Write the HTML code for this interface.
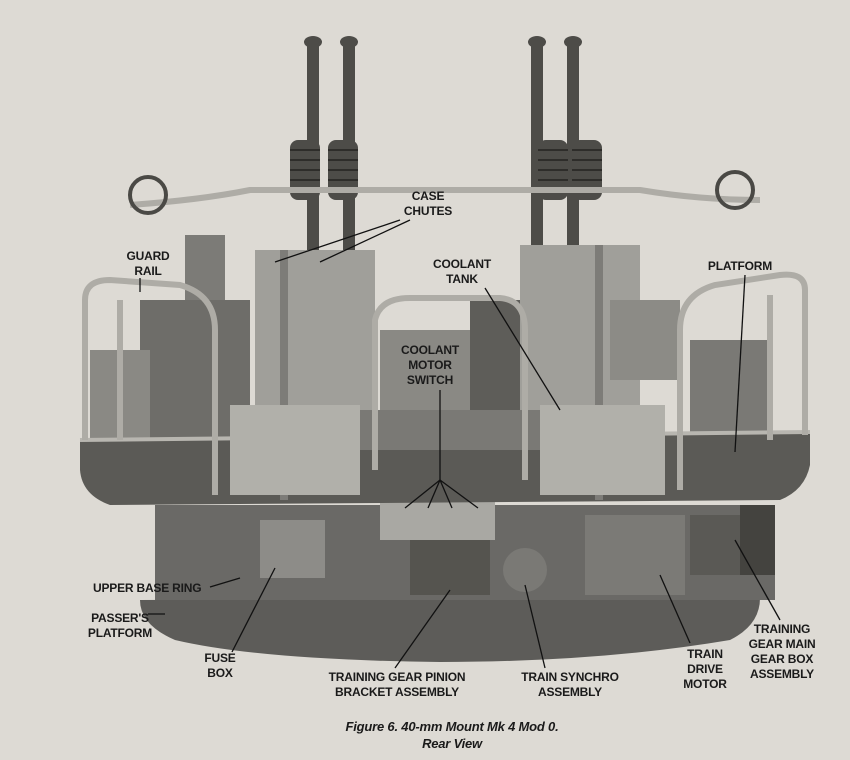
<!DOCTYPE html>
<html><head><meta charset="utf-8"><style>
html,body{margin:0;padding:0;background:#dddad4;}
svg{display:block}
text{font-family:"Liberation Sans",sans-serif;font-size:12px;fill:#1a1a1a;font-weight:bold;letter-spacing:-0.2px}
.c{text-anchor:middle}
</style></head><body>
<svg width="850" height="760" viewBox="0 0 850 760">
<rect width="850" height="760" fill="#dddad4"/>
<!-- background machinery -->
<rect x="140" y="300" width="110" height="140" fill="#6e6d69"/>
<rect x="90" y="350" width="60" height="90" fill="#8a8984"/>
<rect x="470" y="300" width="50" height="110" fill="#5e5d59"/>
<rect x="380" y="330" width="90" height="80" fill="#8a8984"/>
<rect x="690" y="340" width="80" height="95" fill="#7a7975"/>
<!-- passer's platform -->
<path d="M140 600 L760 598 Q760 625 730 640 Q600 662 440 662 Q260 660 175 640 Q140 625 140 600Z" fill="#5d5c59"/>
<!-- lower machinery -->
<rect x="155" y="505" width="620" height="95" fill="#6a6966"/>
<rect x="260" y="520" width="65" height="58" fill="#8d8c88"/>
<rect x="380" y="500" width="115" height="40" fill="#a9a8a3"/>
<rect x="410" y="540" width="80" height="55" fill="#55544f"/>
<circle cx="525" cy="570" r="22" fill="#7a7975"/>
<rect x="585" y="515" width="100" height="80" fill="#7b7a76"/>
<rect x="690" y="515" width="50" height="60" fill="#5a5955"/>
<rect x="740" y="505" width="35" height="70" fill="#44433f"/>
<!-- platform floor -->
<path d="M80 440 L810 432 L810 465 Q805 490 780 500 L110 505 Q82 495 80 470Z" fill="#5b5a56"/>
<path d="M80 440 L810 432" stroke="#b8b6b0" stroke-width="4"/>
<!-- gun barrels -->
<g fill="#4d4c48">
<rect x="307" y="40" width="12" height="380"/><rect x="343" y="40" width="12" height="380"/>
<rect x="531" y="40" width="12" height="380"/><rect x="567" y="40" width="12" height="380"/>
<ellipse cx="313" cy="42" rx="9" ry="6"/><ellipse cx="349" cy="42" rx="9" ry="6"/>
<ellipse cx="537" cy="42" rx="9" ry="6"/><ellipse cx="573" cy="42" rx="9" ry="6"/>
<rect x="290" y="140" width="30" height="60" rx="8"/><rect x="328" y="140" width="30" height="60" rx="8"/>
<rect x="538" y="140" width="30" height="60" rx="8"/><rect x="572" y="140" width="30" height="60" rx="8"/>
</g>
<g stroke="#2e2d2a" stroke-width="2">
<path d="M290 150h30M290 160h30M290 170h30M290 180h30M290 190h30"/>
<path d="M328 150h30M328 160h30M328 170h30M328 180h30M328 190h30"/>
<path d="M538 150h30M538 160h30M538 170h30M538 180h30M538 190h30"/>
<path d="M572 150h30M572 160h30M572 170h30M572 180h30M572 190h30"/>
</g>
<!-- gun housings -->
<rect x="255" y="250" width="120" height="160" fill="#a09f9a"/>
<rect x="520" y="245" width="120" height="165" fill="#a09f9a"/>
<rect x="185" y="235" width="40" height="65" fill="#7c7b77"/>
<rect x="610" y="300" width="70" height="80" fill="#8c8b86"/>
<rect x="280" y="250" width="8" height="250" fill="#7d7c78"/>
<rect x="595" y="245" width="8" height="255" fill="#7d7c78"/>
<!-- boxes -->
<rect x="230" y="405" width="130" height="90" fill="#b1b0aa"/>
<rect x="540" y="405" width="125" height="90" fill="#b1b0aa"/>
<rect x="360" y="410" width="180" height="40" fill="#7a7975"/>
<!-- rails -->
<g fill="none" stroke="#aeaca6" stroke-width="6">
<path d="M85 440 L85 300 Q85 280 110 280 L180 285 Q215 295 215 330 L215 495"/>
<path d="M120 440 L120 300"/>
<path d="M375 470 L375 320 Q380 298 410 298 L500 298 Q525 300 525 330 L525 480"/>
<path d="M805 435 L805 290 Q805 272 780 275 L715 285 Q680 295 680 330 L680 490"/>
<path d="M770 440 L770 295"/>
<path d="M130 205 Q200 200 250 190 L640 190 Q700 200 760 200"/>
</g>
<circle cx="148" cy="195" r="18" fill="none" stroke="#4a4945" stroke-width="4"/>
<circle cx="735" cy="190" r="18" fill="none" stroke="#4a4945" stroke-width="4"/>
<!-- leader lines -->
<g stroke="#111" stroke-width="1.3" fill="none">
<path d="M400 220 L275 262"/><path d="M410 220 L320 262"/>
<path d="M140 278 L140 292"/>
<path d="M485 288 L560 410"/>
<path d="M745 275 L735 452"/>
<path d="M440 390 L440 480"/><path d="M440 480 L405 508"/><path d="M440 480 L428 508"/><path d="M440 480 L452 508"/><path d="M440 480 L478 508"/>
<path d="M210 587 L240 578"/>
<path d="M148 614 L165 614"/>
<path d="M232 652 L275 568"/>
<path d="M395 668 L450 590"/>
<path d="M545 668 L525 585"/>
<path d="M690 643 L660 575"/>
<path d="M780 620 L735 540"/>
</g>
<!-- labels -->
<text class="c" x="428" y="200">CASE</text><text class="c" x="428" y="215">CHUTES</text>
<text class="c" x="148" y="260">GUARD</text><text class="c" x="148" y="275">RAIL</text>
<text class="c" x="462" y="268">COOLANT</text><text class="c" x="462" y="283">TANK</text>
<text class="c" x="740" y="270">PLATFORM</text>
<text class="c" x="430" y="354">COOLANT</text><text class="c" x="430" y="369">MOTOR</text><text class="c" x="430" y="384">SWITCH</text>
<text x="93" y="592">UPPER BASE RING</text>
<text class="c" x="120" y="622">PASSER'S</text><text class="c" x="120" y="637">PLATFORM</text>
<text class="c" x="220" y="662">FUSE</text><text class="c" x="220" y="677">BOX</text>
<text class="c" x="397" y="681">TRAINING GEAR PINION</text><text class="c" x="397" y="696">BRACKET ASSEMBLY</text>
<text class="c" x="570" y="681">TRAIN SYNCHRO</text><text class="c" x="570" y="696">ASSEMBLY</text>
<text class="c" x="705" y="658">TRAIN</text><text class="c" x="705" y="673">DRIVE</text><text class="c" x="705" y="688">MOTOR</text>
<text class="c" x="782" y="633">TRAINING</text><text class="c" x="782" y="648">GEAR MAIN</text><text class="c" x="782" y="663">GEAR BOX</text><text class="c" x="782" y="678">ASSEMBLY</text>
<text class="c" x="452" y="731" style="font-style:italic;font-size:13px">Figure 6.  40-mm Mount Mk 4 Mod 0.</text>
<text class="c" x="452" y="748" style="font-style:italic;font-size:13px">Rear View</text>
</svg>
</body></html>
